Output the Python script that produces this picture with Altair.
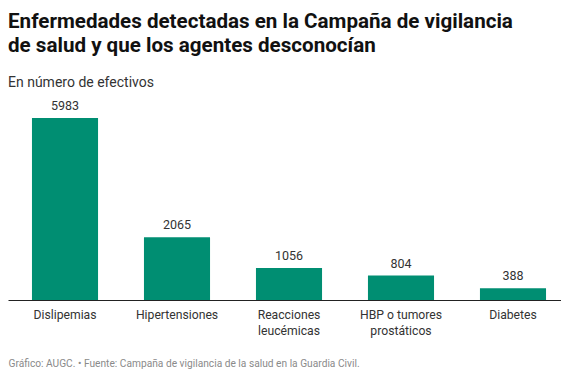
import altair as alt
import pandas as pd

categories = ["Dislipemias", "Hipertensiones", "Reacciones leucémicas", "HBP o tumores prostáticos", "Diabetes"]
values = [5983, 2065, 1056, 804, 388]

title_lines = ["Enfermedades detectadas en la Campaña de vigilancia", "de salud y que los agentes desconocían"]
subtitle = "En número de efectivos"
footer = "Gráfico: AUGC. • Fuente: Campaña de vigilancia de la salud en la Guardia Civil."

df = pd.DataFrame({"cat": categories, "val": values})

FONT = "Roboto"
COLOR = "#008e72"

x = alt.X(
    "cat:N",
    sort=categories,
    scale=alt.Scale(paddingInner=0.41, paddingOuter=0.214),
    axis=alt.Axis(
        title=footer,
        titleFont=FONT,
        titleFontSize=10.2,
        titleFontWeight="normal",
        titleColor="#8a8a8a",
        titleAnchor="start",
        titleAlign="left",
        titleBaseline="alphabetic",
        titleX=0,
        titleY=66,
        labelAngle=0,
        labelFont=FONT,
        labelFontSize=12.2,
        labelColor="#333333",
        labelPadding=8,
        labelLineHeight=16,
        labelExpr="length(datum.label) > 15 ? [substring(datum.label, 0, lastindexof(datum.label, ' ')), substring(datum.label, lastindexof(datum.label, ' ') + 1)] : datum.label",
        ticks=False,
        domainColor="#222222",
        domainWidth=1.2,
        grid=False,
    ),
)
y = alt.Y("val:Q", scale=alt.Scale(domain=[0, 6000], nice=False), axis=None)

bars = alt.Chart(df).mark_bar(color=COLOR).encode(x=x, y=y)
labels = alt.Chart(df).mark_text(
    font=FONT, fontSize=12.5, color="#333333", baseline="alphabetic", dy=-8
).encode(x=alt.X("cat:N", sort=categories), y="val:Q", text="val:Q")

chart = (
    alt.layer(bars, labels)
    .properties(
        width=562,
        height=182.5,
        autosize="none",
        background="white",
        padding={"left": 8, "top": 117.5, "right": -9, "bottom": 75},
        title=alt.Title(
            text=title_lines,
            subtitle=subtitle,
            anchor="start",
            frame="group",
            font=FONT,
            fontSize=20.6,
            fontWeight="bold",
            color="#111111",
            lineHeight=24,
            subtitleFont=FONT,
            subtitleFontSize=14,
            subtitleColor="#333333",
            subtitlePadding=19,
            offset=10,
        ),
    )
    .configure_view(stroke=None, strokeWidth=0)
)

chart.save("out.html", embed_options={"renderer": "svg", "actions": False})
